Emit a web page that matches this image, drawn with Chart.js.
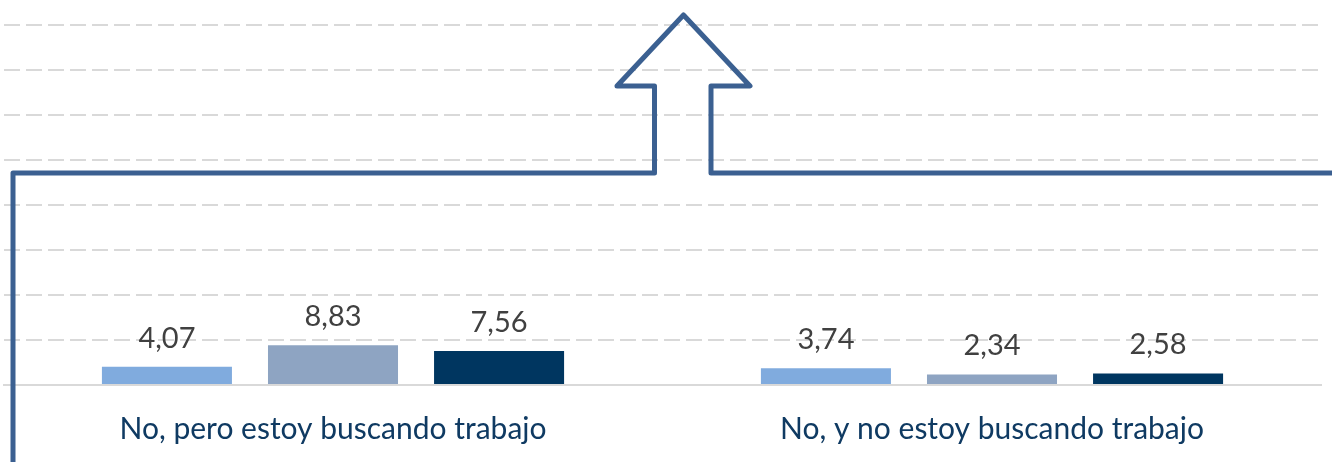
<!DOCTYPE html>
<html>
<head>
<meta charset="utf-8">
<script src="https://cdn.jsdelivr.net/npm/chart.js@4.4.1/dist/chart.umd.min.js"></script>
<style>
  html, body { margin: 0; padding: 0; background: #ffffff; }
  #wrap { width: 1332px; height: 462px; position: relative; }
</style>
</head>
<body>
<div id="wrap"><canvas id="c" width="1332" height="462"></canvas></div>
<script>
// ---- data ----
const categories = ["No, pero estoy buscando trabajo", "No, y no estoy buscando trabajo"];
const seriesNames = ["Serie 1", "Serie 2", "Serie 3"];
const series1 = [4.07, 3.74];
const series2 = [8.83, 2.34];
const series3 = [7.56, 2.58];
const yMin = 0;
const yMax = 85;
const yStep = 10;

// ---- styles ----
const colors = ["#80abde", "#8ea4c2", "#003660"];
const gridColor = "#d9d9d9";
const labelColor = "#404040";
const catColor = "#0f3a62";
const arrowColor = "#3b6091";
const fontFamily = "Lato, 'Open Sans', 'Noto Sans', sans-serif";

const valueLabels = {
  id: "valueLabels",
  afterDatasetsDraw(chart) {
    const ctx = chart.ctx;
    ctx.save();
    ctx.font = "29px " + fontFamily;
    ctx.fillStyle = labelColor;
    ctx.textAlign = "center";
    ctx.textBaseline = "alphabetic";
    chart.data.datasets.forEach((ds, i) => {
      const meta = chart.getDatasetMeta(i);
      meta.data.forEach((bar, j) => {
        const txt = ds.data[j].toFixed(2).replace(".", ",");
        ctx.fillText(txt, bar.x, bar.y - 19);
      });
    });
    ctx.restore();
  }
};

// decorative arrow outline (canvas pixel layout of the reference)
const arrowOutline = {
  id: "arrowOutline",
  afterDraw(chart) {
    const W = chart.width, H = chart.height;
    const pts = [
      [13, 470], [13, 173], [654.5, 173], [654.5, 86], [617, 86],
      [683.5, 15], [750, 86], [711, 86], [711, 173], [1340, 173]
    ];
    const ctx = chart.ctx;
    ctx.save();
    ctx.strokeStyle = arrowColor;
    ctx.lineWidth = 5;
    ctx.lineJoin = "round";
    ctx.lineCap = "butt";
    ctx.beginPath();
    pts.forEach((p, k) => {
      const x = p[0] / 1332 * W, y = p[1] / 462 * H;
      if (k === 0) ctx.moveTo(x, y); else ctx.lineTo(x, y);
    });
    ctx.stroke();
    ctx.restore();
  }
};

new Chart(document.getElementById("c"), {
  type: "bar",
  data: {
    labels: categories,
    datasets: [
      { label: seriesNames[0], data: series1, backgroundColor: colors[0] },
      { label: seriesNames[1], data: series2, backgroundColor: colors[1] },
      { label: seriesNames[2], data: series3, backgroundColor: colors[2] }
    ]
  },
  options: {
    responsive: false,
    animation: false,
    devicePixelRatio: 1,
    layout: { padding: { left: 3.5, right: 10.5, top: 2.5, bottom: 0 } },
    datasets: { bar: { categoryPercentage: 0.756, barPercentage: 0.783 } },
    plugins: { legend: { display: false }, tooltip: { enabled: false } },
    scales: {
      x: {
        grid: { display: false, drawTicks: false },
        border: { display: true, color: gridColor, width: 2 },
        ticks: {
          color: catColor,
          font: { family: fontFamily, size: 30 },
          padding: 26
        },
        afterFit(scale) { scale.height = 77; }
      },
      y: {
        min: yMin, max: yMax,
        ticks: { display: false, stepSize: yStep },
        grid: {
          drawTicks: false,
          lineWidth: 2,
          color: (c) => (c.tick && (c.tick.value === 0 || c.tick.value % yStep !== 0)) ? "rgba(0,0,0,0)" : gridColor
        },
        border: { display: false, dash: [16, 6] },
        afterFit(scale) { scale.width = 0; }
      }
    }
  },
  plugins: [valueLabels, arrowOutline]
});
</script>
</body>
</html>
